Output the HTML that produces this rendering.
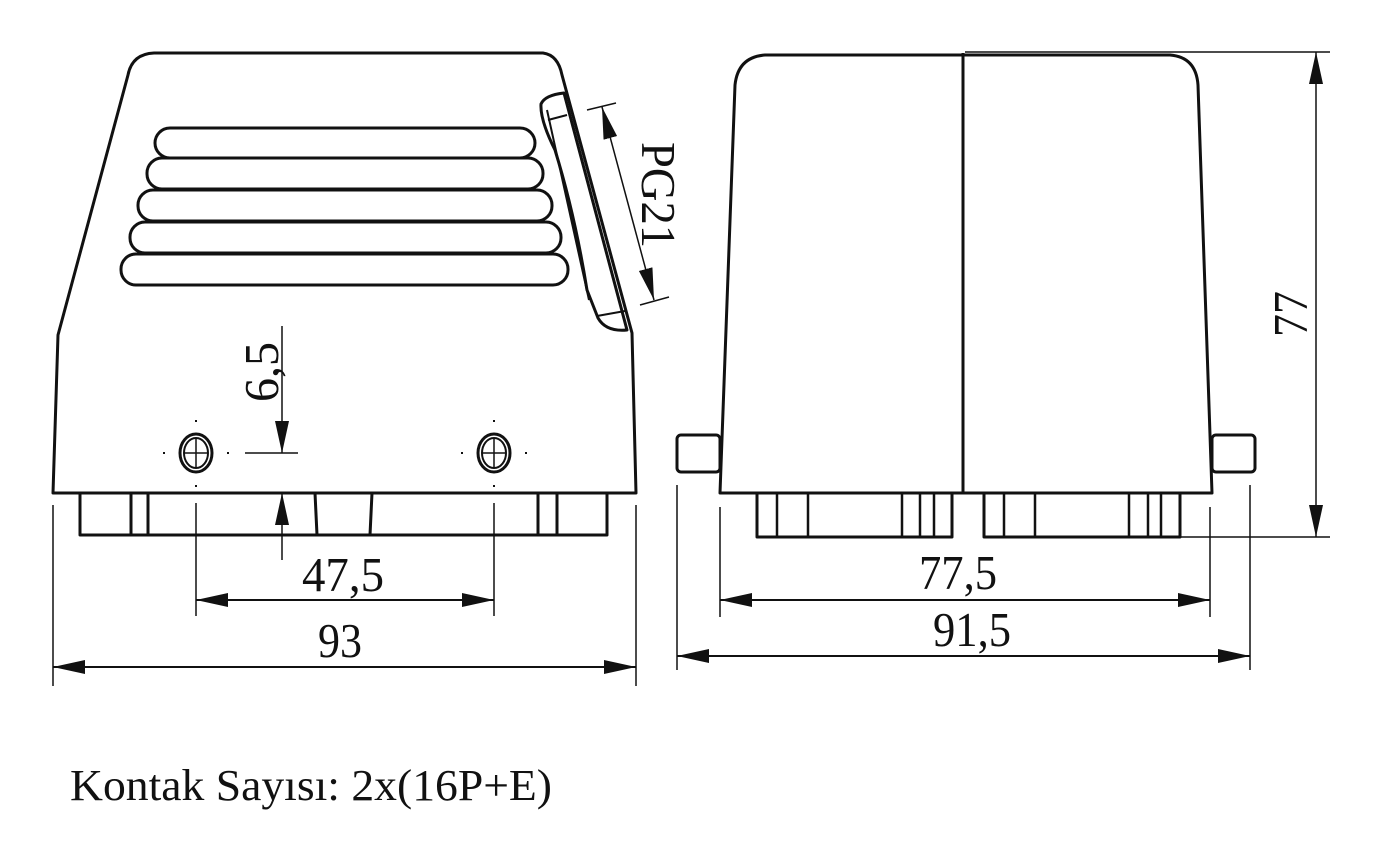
<!DOCTYPE html>
<html><head><meta charset="utf-8"><style>
html,body{margin:0;padding:0;background:#fff;}
svg{display:block;}
text{font-family:"Liberation Serif",serif;fill:#111;}
</style></head><body>
<svg width="1383" height="860" viewBox="0 0 1383 860" xmlns="http://www.w3.org/2000/svg">
<defs>
<marker id="a" viewBox="0 0 32 14" refX="32" refY="7" markerWidth="32" markerHeight="14" markerUnits="userSpaceOnUse" orient="auto-start-reverse">
<path d="M0,0 L32,7 L0,14 Z" fill="#111"/></marker>
</defs>
<g fill="none" stroke="#111" stroke-width="3" stroke-linejoin="round">
<path d="M53,493 L58,335 L128,75 Q132,54 154,53 L543,53 Q558,55 562,75 L632,333 L636,493 Z"/>
<path d="M80,493 L80,535 L607,535 L607,493"/>
<path d="M131,493V535M148,493V535M315,493L317,535M372,493L370,535M538,493V535M557,493V535"/>
<rect x="155" y="128" width="380" height="30" rx="15"/>
<rect x="147" y="158" width="396" height="31" rx="15"/>
<rect x="138" y="190" width="414" height="31" rx="15"/>
<rect x="130" y="222" width="431" height="31" rx="15"/>
<rect x="121" y="254" width="447" height="31" rx="15"/>
<path d="M541,104 Q545,95 564,93 L627,330 Q606,332 598,318 L587,290 Q575,215 555,150 Q540,120 541,104 Z" fill="#fff"/>
<path d="M547,110 L589,300" stroke-width="2"/>
<path d="M548,120 L567,115 M597,316 L625,311" stroke-width="2"/>
<ellipse cx="196" cy="453" rx="16" ry="19"/><ellipse cx="196" cy="453" rx="12" ry="15" stroke-width="2"/>
<ellipse cx="494" cy="453" rx="16" ry="19"/><ellipse cx="494" cy="453" rx="12" ry="15" stroke-width="2"/>
</g>
<g stroke="#111" stroke-width="1.5" fill="none">
<path d="M184,453H208M196,439V467M482,453H506M494,439V467"/>
<path d="M163,453h2M227,453h2M196,420v2M196,485v2M461,453h2M525,453h2M494,420v2M494,485v2" stroke-width="2"/>
<path d="M282,326V453" marker-end="url(#a)"/>
<path d="M282,560V493" marker-end="url(#a)"/>
<path d="M245,453H298"/>
<path d="M587,110L616,103M640,305L669,297"/>
<path d="M602,107L654,300" marker-start="url(#a)" marker-end="url(#a)"/>
<path d="M196,503V616M494,503V616M53,505V686M636,505V686"/>
<path d="M196,600H494" marker-start="url(#a)" marker-end="url(#a)" stroke-width="2"/>
<path d="M53,667H636" marker-start="url(#a)" marker-end="url(#a)" stroke-width="2"/>
</g>
<g fill="none" stroke="#111" stroke-width="3" stroke-linejoin="round">
<path d="M720,493 L735,85 Q738,57 765,55 L1170,55 Q1196,57 1198,85 L1212,493 Z"/>
<path d="M963,53V493"/>
<rect x="677" y="435" width="43" height="37" rx="4"/>
<rect x="1212" y="435" width="43" height="37" rx="4"/>
<path d="M757,493V537H952V493M984,493V537H1180V493"/>
<path d="M777,493V537M808,493V537M902,493V537M920,493V537M934,493V537M1004,493V537M1035,493V537M1129,493V537M1148,493V537M1161,493V537" stroke-width="2.5"/>
</g>
<g stroke="#111" stroke-width="1.5" fill="none">
<path d="M965,52H1330M1170,537H1330"/>
<path d="M1316,295V52" marker-end="url(#a)"/>
<path d="M1316,295V537" marker-end="url(#a)"/>
<path d="M720,507V617M1210,507V617M677,485V670M1250,485V670"/>
<path d="M720,600H1210" marker-start="url(#a)" marker-end="url(#a)" stroke-width="2"/>
<path d="M677,656H1250" marker-start="url(#a)" marker-end="url(#a)" stroke-width="2"/>
</g>
<g font-size="49">
<text x="343" y="591" text-anchor="middle" textLength="82" lengthAdjust="spacingAndGlyphs">47,5</text>
<text x="340" y="657" text-anchor="middle" textLength="44" lengthAdjust="spacingAndGlyphs">93</text>
<text x="958" y="589" text-anchor="middle" textLength="78" lengthAdjust="spacingAndGlyphs">77,5</text>
<text x="972" y="646" text-anchor="middle" textLength="78" lengthAdjust="spacingAndGlyphs">91,5</text>
<text transform="translate(278,372) rotate(-90)" text-anchor="middle" textLength="60" lengthAdjust="spacingAndGlyphs">6,5</text>
<text transform="translate(1307,314) rotate(-90)" text-anchor="middle" textLength="46" lengthAdjust="spacingAndGlyphs">77</text>
<text transform="translate(642,195) rotate(90)" text-anchor="middle" textLength="106" lengthAdjust="spacingAndGlyphs">PG21</text>
</g>
<text x="70" y="800" font-size="44" textLength="482" lengthAdjust="spacingAndGlyphs">Kontak Sayısı: 2x(16P+E)</text>
</svg>
</body></html>
